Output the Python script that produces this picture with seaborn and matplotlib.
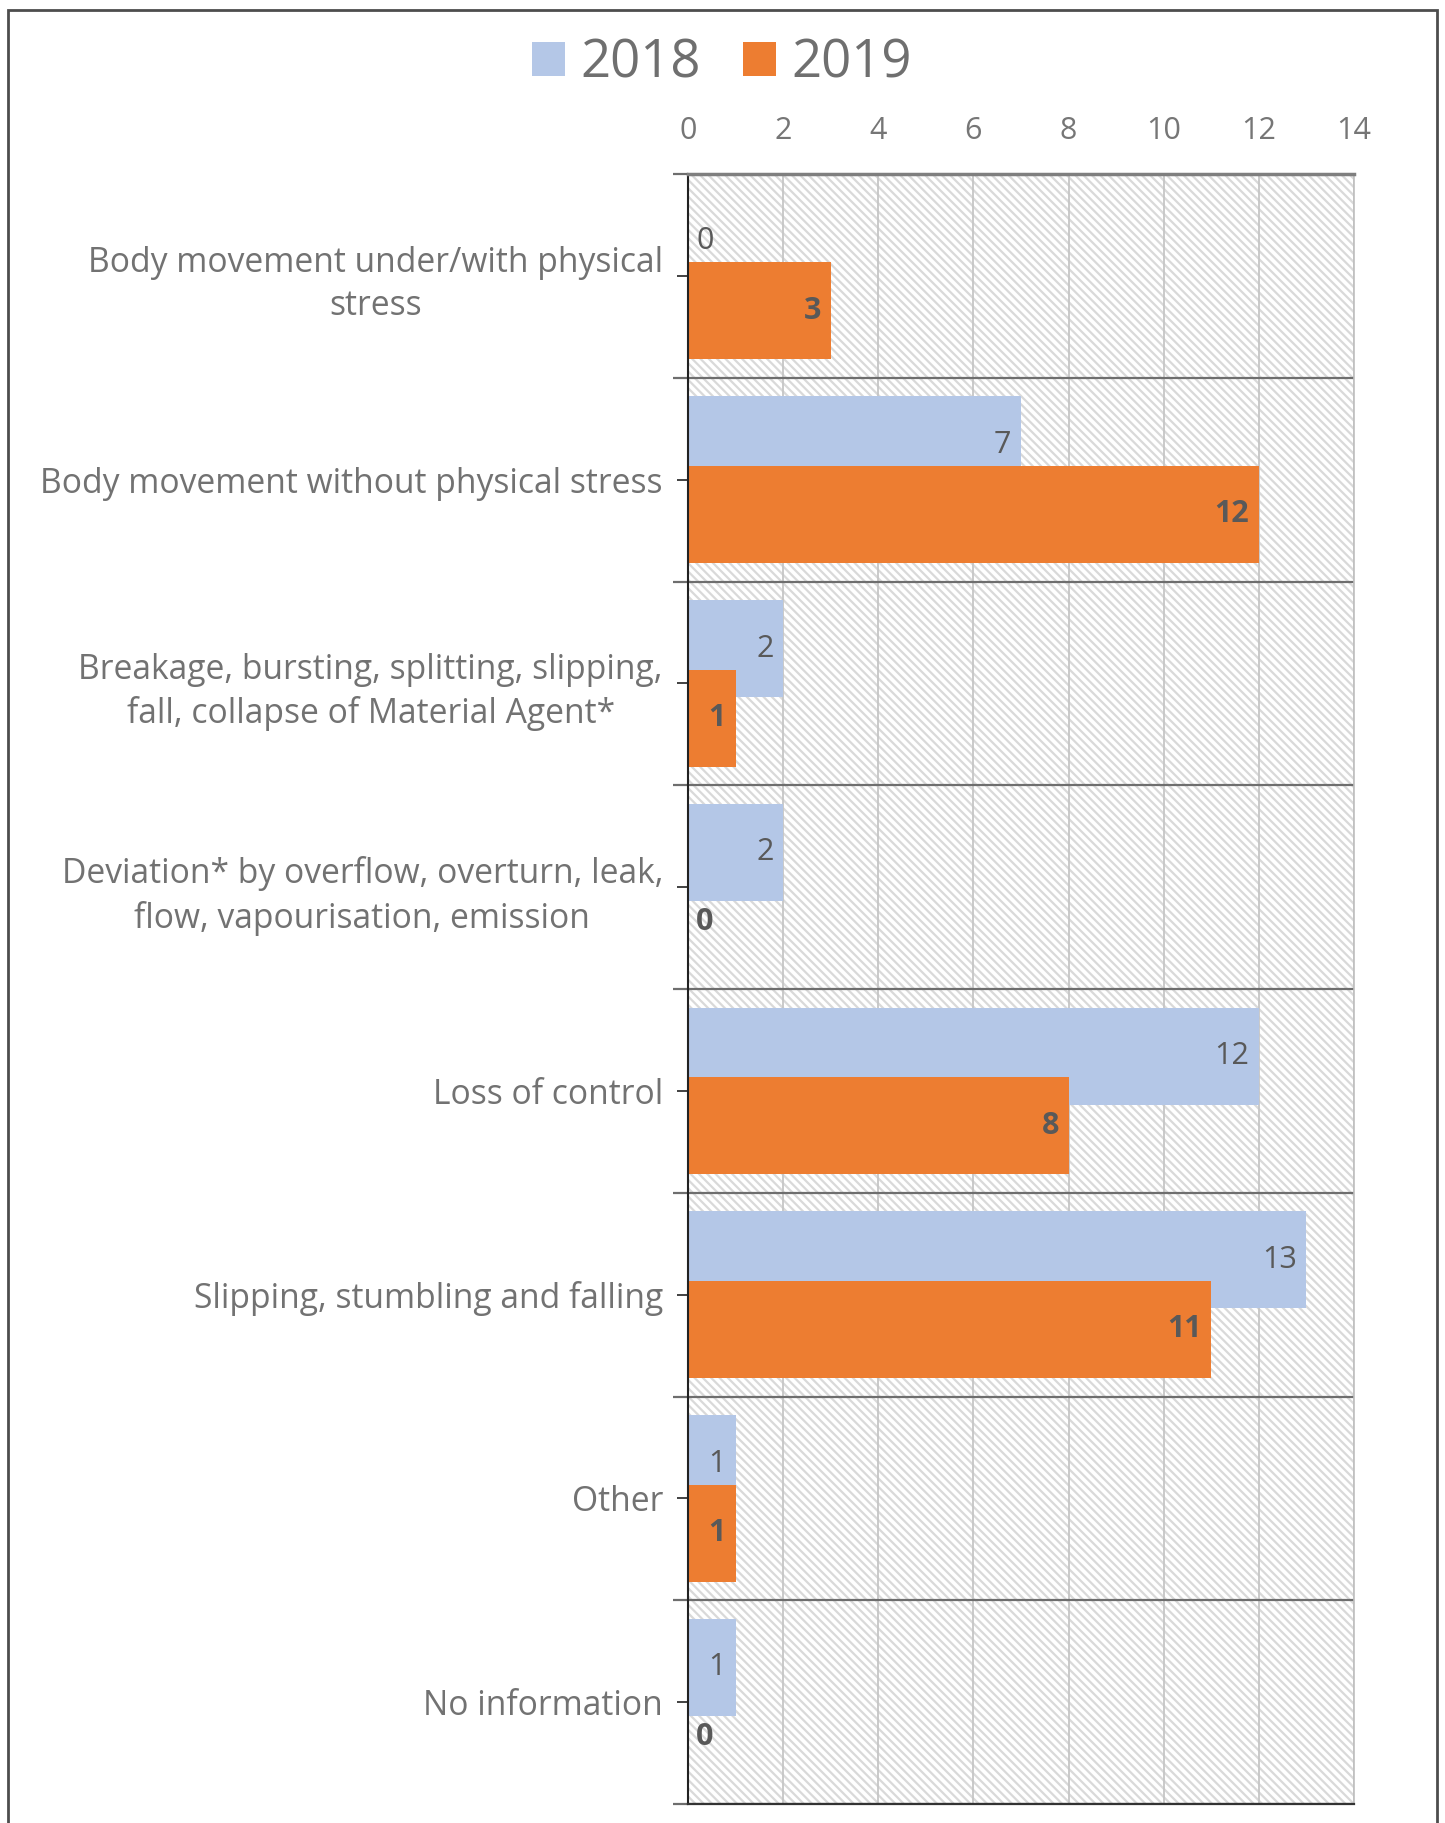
import matplotlib
matplotlib.use('Agg')
import matplotlib.pyplot as plt
import seaborn as sns
import pandas as pd
import numpy as np
from matplotlib.patches import Rectangle, Patch

categories = [
    "Body movement under/with physical\nstress",
    "Body movement without physical stress",
    "Breakage, bursting, splitting, slipping,\nfall, collapse of Material Agent*",
    "Deviation* by overflow, overturn, leak,\nflow, vapourisation, emission",
    "Loss of control",
    "Slipping, stumbling and falling",
    "Other",
    "No information",
]
values_2018 = [0, 7, 2, 2, 12, 13, 1, 1]
values_2019 = [3, 12, 1, 0, 8, 11, 1, 0]
years = ["2018", "2019"]
colors = ["#B4C7E7", "#ED7D31"]
x_ticks = [0, 2, 4, 6, 8, 10, 12, 14]

sns.set_theme(style='white')
plt.rcParams['font.family'] = ['Open Sans', 'DejaVu Sans']
plt.rcParams['hatch.linewidth'] = 1.6

df = pd.DataFrame({
    'category': categories * 2,
    'value': values_2018 + values_2019,
    'year': [years[0]] * len(categories) + [years[1]] * len(categories),
})

W, H = 1445, 1823
fig = plt.figure(figsize=(W / 100, H / 100), dpi=100)
ax = fig.add_axes([688 / W, 1 - 1804 / H, (1354 - 688) / W, (1804 - 174) / H])

# hatched plot background
ax.add_patch(Rectangle((0, 0), 1, 1, transform=ax.transAxes, facecolor='white',
                       edgecolor='#d9d9d9', hatch='\\\\\\\\', lw=0, zorder=0))

sns.barplot(data=df, y='category', x='value', hue='year', hue_order=years,
            palette=colors, orient='h', width=0.68, ax=ax, legend=False,
            saturation=1, errorbar=None, zorder=2)

# overlapping bars (Excel-style overlap)
bar_h = 0.476
for cont in ax.containers:
    for p in cont:
        yc = p.get_y() + p.get_height() / 2
        p.set_y(yc - bar_h / 2)
        p.set_height(bar_h)
        p.set_edgecolor('none')

# data labels
for cont, weight in zip(ax.containers, ['normal', 'bold']):
    for p in cont:
        w = p.get_width()
        yc = p.get_y() + p.get_height() / 2
        txt = f"{int(round(w))}"
        if w > 0:
            ax.annotate(txt, xy=(w, yc), xytext=(-7, 0), textcoords='offset points',
                        ha='right', va='center', fontsize=22, fontweight=weight,
                        color='#595959', zorder=5)
        else:
            ax.annotate(txt, xy=(w, yc), xytext=(6, 0), textcoords='offset points',
                        ha='left', va='center', fontsize=22, fontweight=weight,
                        color='#595959', zorder=5)

ax.set_xlabel('')
ax.set_ylabel('')
ax.set_xlim(0, 14)
ax.set_xticks(x_ticks)
ax.xaxis.tick_top()
ax.tick_params(axis='x', length=0, pad=20, labelsize=22, labelcolor='#767676',
               top=True, bottom=False, labeltop=True, labelbottom=False)
ax.tick_params(axis='y', which='major', length=8, width=1.3, color='#333333', pad=10,
               labelsize=24.2, labelcolor='#727272', direction='out', left=True)
ax.set_yticks(np.arange(-0.5, len(categories), 1), minor=True)
ax.tick_params(axis='y', which='minor', length=11, width=1.6, color='#6e6e6e',
               left=True, direction='out')
ax.set_ylim(len(categories) - 0.5, -0.5)
ax.set_axisbelow(True)
ax.grid(False)
ax.grid(axis='x', which='major', color='#c6c6c6', lw=1.3, zorder=0.5)
ax.grid(axis='y', which='minor', color='#6e6e6e', lw=1.6, zorder=0.5)

for lbl in ax.get_yticklabels():
    lbl.set_multialignment('center')
    lbl.set_linespacing(1.35)

ax.spines['top'].set_color('#7f7f7f')
ax.spines['top'].set_linewidth(2.5)
ax.spines['left'].set_color('#222222')
ax.spines['left'].set_linewidth(1.5)
ax.spines['bottom'].set_color('#333333')
ax.spines['bottom'].set_linewidth(1.6)
ax.spines['right'].set_color('#bfbfbf')
ax.spines['right'].set_linewidth(1.2)
for s in ax.spines.values():
    s.set_visible(True)

handles = [Patch(facecolor=c, edgecolor='none') for c in colors]
fig.legend(handles, years, loc='center', bbox_to_anchor=(722 / W, 1 - 64 / H), ncol=2,
           frameon=False, fontsize=38, labelcolor='#6f6f6f', handlelength=0.62,
           handleheight=0.62, handletextpad=0.3, columnspacing=0.8)

fig.add_artist(Rectangle((8 / W, -0.05), (1437 - 8) / W, 1.05 - 10 / H,
                         transform=fig.transFigure, fill=False,
                         edgecolor='#4d4d4d', lw=2))

fig.savefig('out.png', dpi=100)
